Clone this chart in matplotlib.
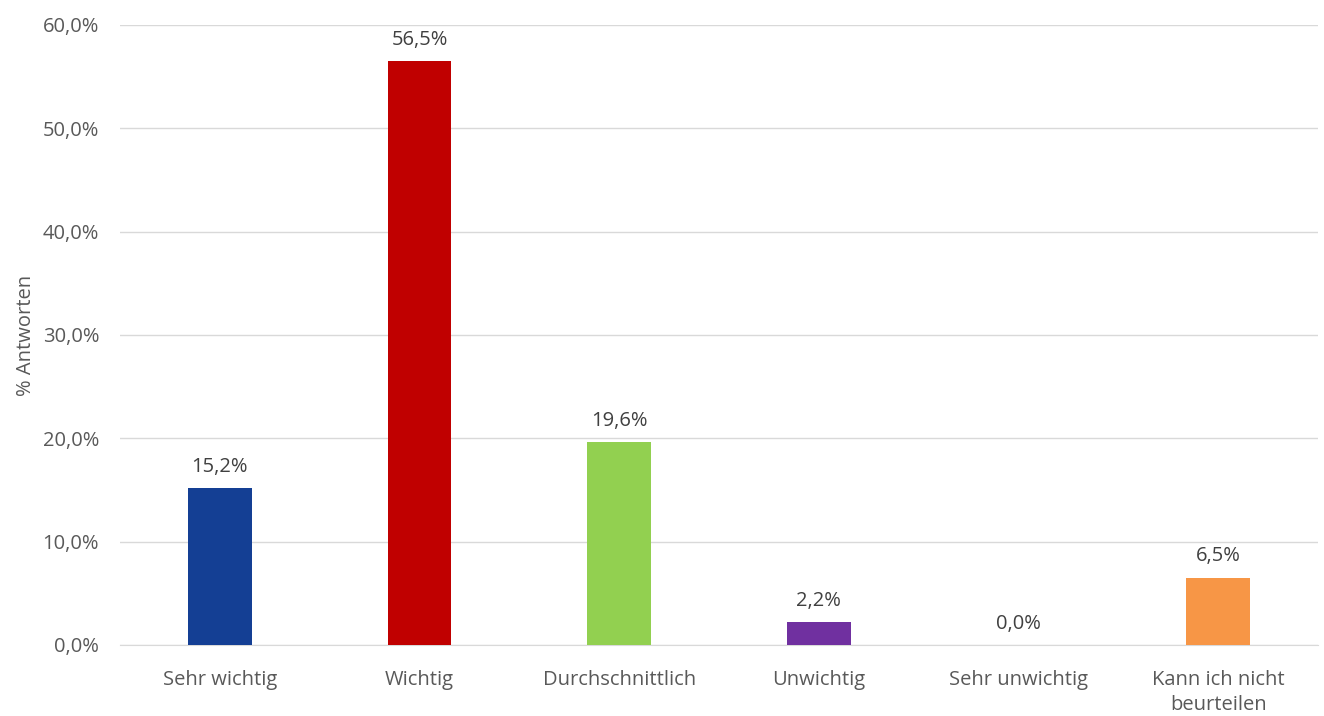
import matplotlib
matplotlib.use("Agg")
import matplotlib.pyplot as plt
from matplotlib.ticker import FuncFormatter

# Daten
kategorien = ["Sehr wichtig", "Wichtig", "Durchschnittlich", "Unwichtig",
              "Sehr unwichtig", "Kann ich nicht\nbeurteilen"]
anteile = [15.2, 56.5, 19.6, 2.2, 0.0, 6.5]
farben = ["#143F94", "#C00000", "#92D050", "#7030A0", "#FFFFFF", "#F79646"]
y_ticks = [0, 10, 20, 30, 40, 50, 60]

plt.rcParams['font.family'] = ['Open Sans', 'DejaVu Sans']
textfarbe = "#595959"
fs = 14.5

fig = plt.figure(figsize=(13.24, 7.16), dpi=100)
ax = fig.add_axes([0.0906, 0.0992, 0.905, 0.866])

x = range(len(kategorien))
ax.bar(x, anteile, width=0.32, color=farben, zorder=3)

# Werte über den Balken
for xi, wert in zip(x, anteile):
    ax.text(xi, wert + 1.1, f"{wert:.1f}%".replace(".", ","), ha="center",
            va="bottom", fontsize=fs, color="#404040")

ax.set_xlim(-0.5, len(kategorien) - 0.5)
ax.set_ylim(0, 60)
ax.set_yticks(y_ticks)
ax.yaxis.set_major_formatter(FuncFormatter(lambda v, p: f"{v:.1f}%".replace(".", ",")))
ax.set_xticks(list(x))
ax.set_xticklabels(kategorien, fontsize=fs, color=textfarbe, linespacing=1.35)
ax.tick_params(axis="y", labelsize=fs, labelcolor=textfarbe, length=0, pad=15)
ax.tick_params(axis="x", length=0, pad=18)

ax.grid(axis="y", color="#D9D9D9", linewidth=1, zorder=0)
for s in ["top", "right", "left"]:
    ax.spines[s].set_visible(False)
ax.spines["bottom"].set_color("#D9D9D9")

ax.set_ylabel("% Antworten", fontsize=fs, color=textfarbe, labelpad=5)

fig.savefig("out.png", dpi=100)
